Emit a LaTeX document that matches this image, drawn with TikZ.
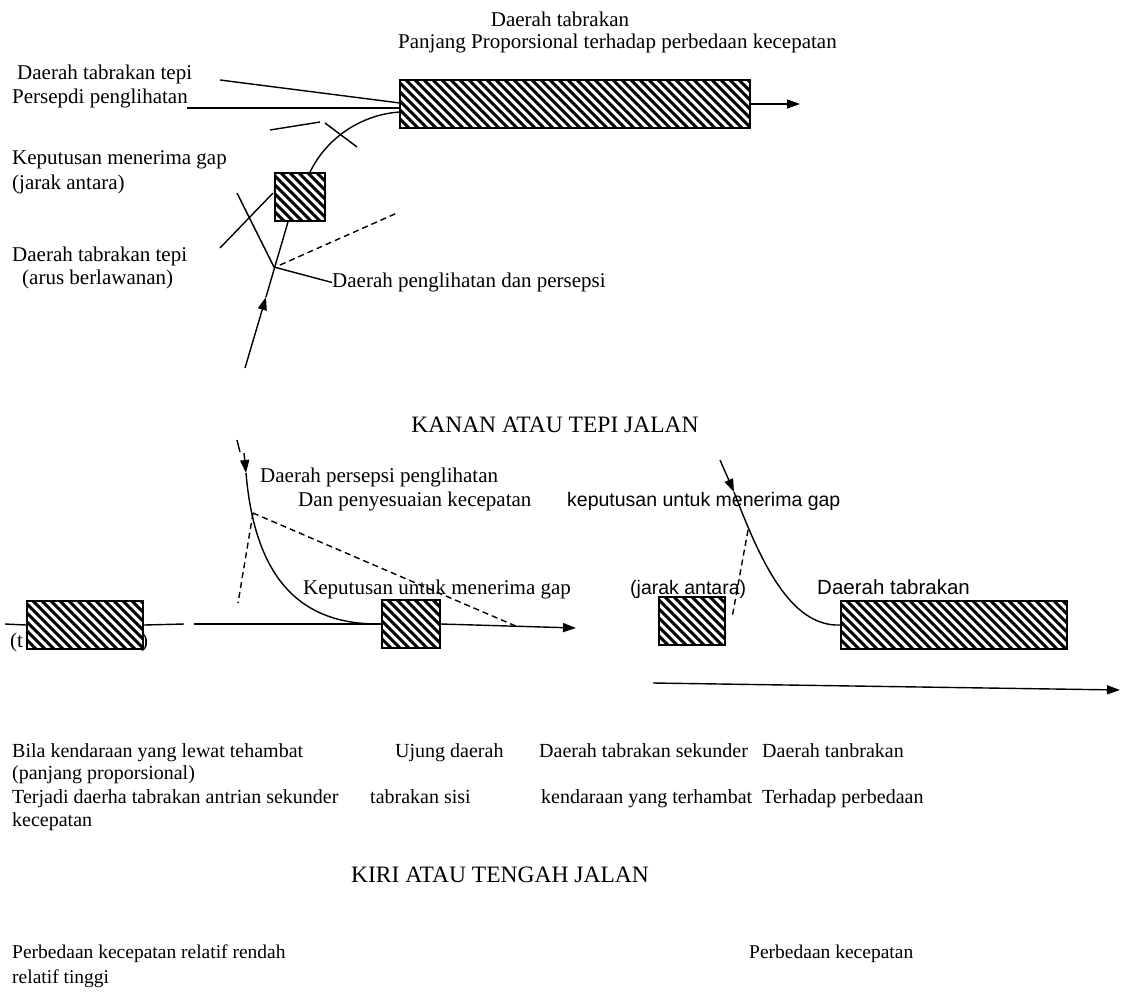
\documentclass[tikz,border=0pt]{standalone}
\usepackage{fontspec}
\setmainfont{Liberation Serif}
\newfontfamily\arialfont{Liberation Sans}
\usetikzlibrary{arrows.meta}
\begin{document}
\begin{tikzpicture}[x=1pt,y=-1pt,
  lbl/.style={anchor=base west,yshift=-6.5pt,inner sep=0pt,font=\fontsize{21}{24}\selectfont},
  captext/.style={anchor=base west,yshift=-6.5pt,inner sep=0pt,font=\fontsize{20}{23}\selectfont},
  lbll/.style={anchor=base west,yshift=-6.5pt,inner sep=0pt,font=\fontsize{19.5}{23}\selectfont},
  lbls/.style={anchor=base west,yshift=-6.5pt,inner sep=0pt,font=\arialfont\fontsize{19.5}{23}\selectfont},
  head/.style={inner sep=0pt,font=\fontsize{23.5}{26}\selectfont},
  ln/.style={line width=1.4pt},
  dsh/.style={line width=1.4pt,dash pattern=on 6pt off 4pt},
  arr/.style={ln,-{Triangle[length=13pt,width=9pt]}},
  hatch/.style={draw,line width=1.8pt,fill=white,inner sep=0pt,
    path picture={
      \foreach \k in {-8,...,42}
        \draw[line width=3pt] ([xshift={\k*9pt},yshift=6pt]path picture bounding box.north west) -- ++(70,70);
    }},
]
\useasboundingbox (0,0) rectangle (1123,996);

% ---------- upper diagram: right side / road edge ----------
\node[inner sep=0pt,font=\fontsize{21}{24}\selectfont] (t1) at (560,19) {Daerah tabrakan};
\node[lbl] (t2) at (398,42) {Panjang Proporsional terhadap perbedaan kecepatan};
\node[lbl] (t3) at (17,73) {Daerah tabrakan tepi};
\node[lbl] (t4) at (12,97) {Persepdi penglihatan};
\node[lbl] (t5) at (12,158) {Keputusan menerima gap};
\node[lbl] (t6) at (12,183) {(jarak antara)};
\node[lbl] (t7) at (12,255) {Daerah tabrakan tepi};
\node[lbl] (t8) at (22,278) {(arus berlawanan)};
\node[lbl] (t9) at (332,281) {Daerah penglihatan dan persepsi};

\node[hatch,minimum width=350pt,minimum height=48pt] (bigtop) at (575,104) {};
\node[hatch,minimum width=50pt,minimum height=48pt] (smalltop) at (300,197) {};

\coordinate (endtop) at (800,104);
\draw[arr] (bigtop.east) -- (endtop);

\coordinate (edgeA) at (220,80);
\coordinate (edgeB) at (187,108);
\coordinate (inA) at (400,103);
\coordinate (inB) at (400,108);
\coordinate (inC) at (400,112);
\draw[ln] (edgeA) -- (inA);
\draw[ln] (edgeB) -- (inB);
\draw[ln] ([xshift=10pt]smalltop.north) .. controls (328,135) and (365,114) .. (inC);
\coordinate (x1a) at (270,130);
\coordinate (x1b) at (320,122);
\coordinate (x2a) at (325,123);
\coordinate (x2b) at (357,147);
\draw[ln] (x1a) -- (x1b);
\draw[ln] (x2a) -- (x2b);

\coordinate (approach) at (245,368);
\coordinate (midarr) at (266,297);
\coordinate (junc) at (274,267);
\draw[arr] (approach) -- (midarr);
\draw[ln] (midarr) -- ([xshift=-12pt]smalltop.south);
\coordinate (cr1) at (237,193);
\coordinate (cr2a) at (220,248);
\coordinate (cr2b) at (273,193);
\draw[ln] (cr1) -- (junc);
\draw[ln] (cr2a) -- (cr2b);
\coordinate (sight) at (397,213);
\draw[dsh] ([xshift=6pt,yshift=2pt]junc) -- (sight);
\draw[ln] (junc) -- (t9.west);

\node[head] (kanan) at (555,425) {KANAN ATAU TEPI JALAN};

% ---------- lower diagram: left side / middle of road ----------
\node[lbl] (b1) at (260,476) {Daerah persepsi penglihatan};
\node[lbl] (b2) at (298,500) {Dan penyesuaian kecepatan};
\node[lbls] (b3) at (567,500) {keputusan untuk menerima gap};
\node[lbl] (b4) at (303,588) {Keputusan untuk menerima gap};
\node[lbl] (b5) at (10,641) {(t};
\node[lbl] (b6) at (141,641) {)};

\coordinate (tk1) at (237,440);
\coordinate (tk2) at (240,452);
\draw[ln] (tk1) -- (tk2);
\coordinate (dn1) at (244,453);
\coordinate (dn2) at (246,473);
\draw[arr] (dn1) -- (dn2);
\coordinate (lj) at (253,513);

\node[hatch,minimum width=116pt,minimum height=48pt] (leftbox) at (85,625) {};
\node[hatch,minimum width=58pt,minimum height=48pt] (midbox) at (411,624) {};

\draw[ln] (dn2) .. controls (256,592) and (312,625) .. (midbox.west);
\draw[dsh] (lj) -- (238,603);
\draw[dsh] (lj) -- (518,627);

\coordinate (l0) at (5,624);
\coordinate (g1) at (184,624);
\coordinate (g2) at (194,624);
\coordinate (lend) at (576,628);
\draw[ln] (l0) -- (leftbox.west);
\draw[ln] (leftbox.east) -- (g1);
\draw[ln] (g2) -- (midbox.west);
\draw[arr] (midbox.east) -- (lend);

% right part
\node[lbls] (r1) at (630,588) {(jarak antara)};
\node[lbls,font=\arialfont\fontsize{20.5}{23}\selectfont] (r2) at (817,588) {Daerah tabrakan};
\node[hatch,minimum width=66pt,minimum height=48pt] (rsmall) at (692,621) {};
\node[hatch,minimum width=226pt,minimum height=48pt] (rbig) at (954,625) {};

\coordinate (rs1) at (720,460);
\coordinate (rs2) at (734,492);
\draw[arr] (rs1) -- (rs2);
\draw[ln] (rs2) .. controls (760,560) and (790,627) .. (rbig.west);
\draw[dsh] (748,530) -- (732,618);
\coordinate (ra1) at (653,683);
\coordinate (ra2) at (1120,690);
\draw[arr] (ra1) -- (ra2);

% ---------- captions ----------
\node[captext] (c1) at (12,751) {Bila kendaraan yang lewat tehambat};
\node[captext] (c2) at (395,751) {Ujung daerah};
\node[captext] (c3) at (539,751) {Daerah tabrakan sekunder};
\node[captext] (c4) at (762,751) {Daerah tanbrakan};
\node[captext] (c5) at (12,773) {(panjang proporsional)};
\node[captext] (c6) at (12,797) {Terjadi daerha tabrakan antrian sekunder};
\node[captext] (c7) at (370,797) {tabrakan sisi};
\node[captext] (c8) at (541,797) {kendaraan yang terhambat};
\node[captext] (c9) at (762,797) {Terhadap perbedaan};
\node[captext] (c10) at (12,820) {kecepatan};

\node[head] (kiri) at (500,875) {KIRI ATAU TENGAH JALAN};

\node[lbll] (d1) at (12,952) {Perbedaan kecepatan relatif rendah};
\node[lbll] (d2) at (12,977) {relatif tinggi};
\node[lbll] (d3) at (749,952) {Perbedaan kecepatan};
\end{tikzpicture}
\end{document}
